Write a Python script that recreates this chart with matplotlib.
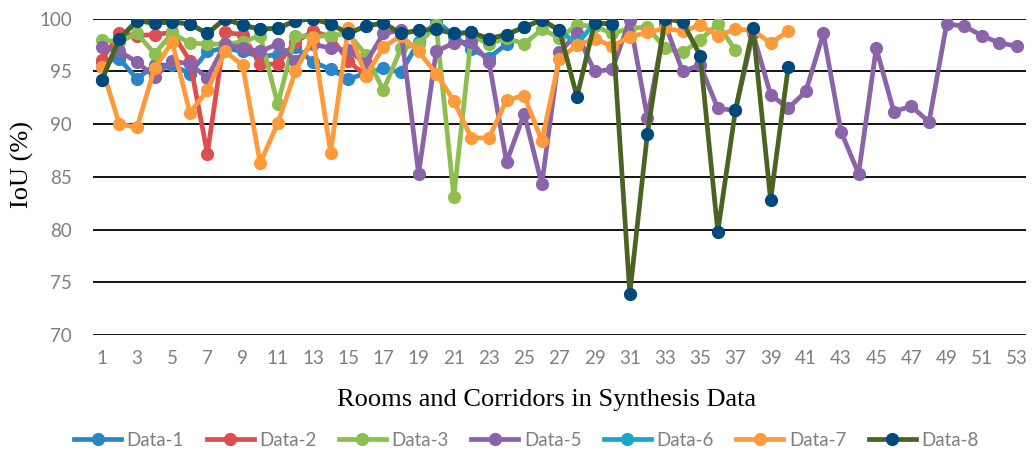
import matplotlib
matplotlib.use('Agg')
import matplotlib.pyplot as plt

# IoU per room/corridor for each synthesis dataset
data_1 = [95.9, 96.2, 94.3, 95.6, 95.6, 94.8, 96.9, 97.2, 96.9, 96.4, 96.6, 97.3, 95.9, 95.2,
          94.3, 94.8, 95.3, 94.9, 97.8, 99.8, 98.4, 97.1, 96.3, 97.6]
data_2 = [96.1, 98.6, 98.4, 98.5, 98.7, 96.0, 87.2, 98.7, 98.5, 95.7, 95.7, 97.8, 98.8, 98.3,
          96.0, 94.6]
data_3 = [98.0, 97.8, 98.6, 96.7, 98.6, 97.7, 97.6, 97.6, 97.8, 98.4, 91.9, 98.4, 98.3, 98.4,
          98.6, 96.6, 93.2, 97.2, 97.6, 99.4, 83.1, 98.4, 97.6, 98.2, 97.6, 99.0, 98.2, 99.4,
          99.3, 98.6, 99.1, 99.2, 97.2, 96.8, 98.0, 99.5, 97.0]
data_5 = [97.3, 96.9, 95.9, 94.5, 96.0, 95.7, 94.4, 97.6, 97.2, 96.9, 97.6, 96.0, 97.6, 97.2,
          97.0, 95.8, 98.6, 98.9, 85.3, 96.9, 97.7, 97.8, 95.9, 86.4, 91.0, 84.3, 96.8, 98.6,
          95.0, 95.2, 99.9, 90.6, 99.5, 95.0, 95.6, 91.5, 91.3, 98.6, 92.8, 91.5, 93.1, 98.6,
          89.3, 85.3, 97.2, 91.2, 91.7, 90.2, 99.5, 99.3, 98.4, 97.7, 97.4]
data_6 = [94.2, 98.1, 99.8, 99.6, 99.7, 99.5, 98.6, 100.0, 99.4, 99.0, 99.1, 99.8, 100.0, 99.5,
          98.6, 99.3, 99.6, 98.6, 98.9, 99.0, 98.6, 98.7, 98.1, 98.5, 99.2, 99.9, 98.9, 97.6,
          99.6, 99.5]
data_7 = [95.4, 90.0, 89.7, 95.3, 97.8, 91.1, 93.2, 96.9, 95.6, 86.3, 90.1, 95.0, 98.2, 87.3,
          99.1, 94.6, 97.3, 98.4, 96.9, 94.8, 92.2, 88.7, 88.7, 92.3, 92.7, 88.4, 96.2, 97.5,
          98.1, 97.4, 98.3, 98.7, 99.1, 98.8, 99.4, 98.4, 99.0, 98.9, 97.7, 98.8]
data_8 = [94.2, 98.1, 99.8, 99.6, 99.7, 99.5, 98.6, 100.0, 99.4, 99.0, 99.1, 99.8, 100.0, 99.5,
          98.6, 99.3, 99.6, 98.6, 98.9, 99.0, 98.6, 98.7, 98.1, 98.5, 99.2, 99.9, 98.9, 92.6,
          99.6, 99.5, 73.9, 89.1, 100.0, 99.7, 96.5, 79.8, 91.3, 99.1, 82.8, 95.4]

labels = ['Data-1', 'Data-2', 'Data-3', 'Data-5', 'Data-6', 'Data-7', 'Data-8']
series = [data_1, data_2, data_3, data_5, data_6, data_7, data_8]
line_colors = ['#2A86C6', '#DE4E4E', '#8CBF4F', '#8A63A8', '#18A8C8', '#FF9A3A', '#4A6321']
marker_colors = ['#2A86C6', '#DE4E4E', '#8CBF4F', '#8A63A8', '#18A8C8', '#FF9A3A', '#00497D']
n_rooms = 53

fig = plt.figure(figsize=(10.32, 4.57), dpi=100)
ax = fig.add_axes([0.0901, 0.267, 0.9039, 0.692])

for vals, name, lc, mc in zip(series, labels, line_colors, marker_colors):
    xs = list(range(1, len(vals) + 1))
    ax.plot(xs, vals, color=lc, lw=3.4, marker='o', ms=8.5,
            markerfacecolor=mc, markeredgecolor=mc, label=name, zorder=3)

ax.set_xlim(0.5, n_rooms + 0.5)
ax.set_ylim(70, 100)
ax.set_yticks(range(70, 101, 5))
ax.set_xticks(range(1, n_rooms + 1, 2))
ax.grid(axis='y', color='black', lw=1.3, zorder=0)
ax.set_axisbelow(True)
for s in ax.spines.values():
    s.set_visible(False)
ax.tick_params(axis='y', length=0, labelsize=13.5, labelcolor='#7F7F7F', pad=15)
ax.tick_params(axis='x', length=0, labelsize=13.5, labelcolor='#7F7F7F', pad=11)
for t in ax.get_xticklabels() + ax.get_yticklabels():
    t.set_family('Lato')

ax.set_ylabel('IoU (%)', family='Liberation Serif', fontsize=19)
ax.yaxis.set_label_coords(-0.063, 0.54)
ax.set_xlabel('Rooms and Corridors in Synthesis Data', family='Liberation Serif',
              fontsize=19, labelpad=16)
ax.xaxis.label.set_x(0.486)

leg = fig.legend(loc='center', bbox_to_anchor=(0.51, 0.037), ncol=7, frameon=False,
                 prop={'family': 'Lato', 'size': 13.5}, handlelength=2.5,
                 handletextpad=0.3, columnspacing=1.2)
for t in leg.get_texts():
    t.set_color('#7F7F7F')

fig.savefig('out.png', dpi=100)
